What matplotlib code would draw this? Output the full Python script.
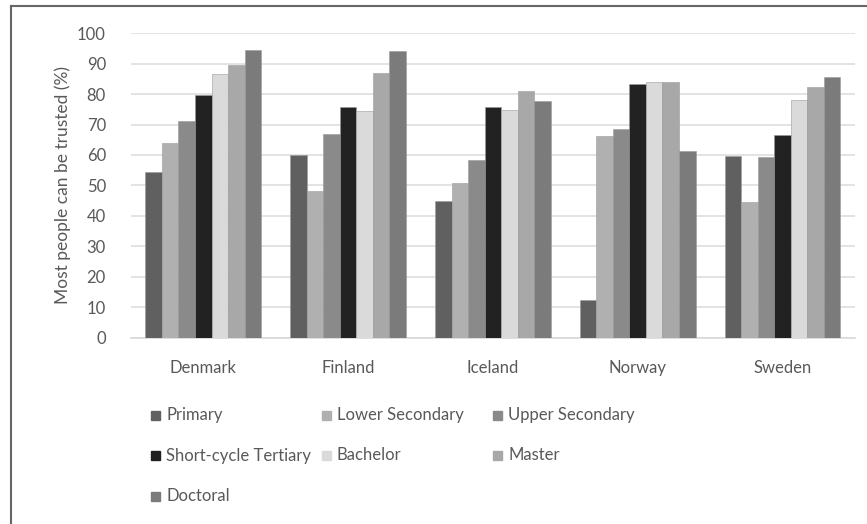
import matplotlib.pyplot as plt
import numpy as np
from matplotlib.lines import Line2D
from matplotlib.patches import Rectangle

countries = ["Denmark", "Finland", "Iceland", "Norway", "Sweden"]
levels = ["Primary", "Lower Secondary", "Upper Secondary",
          "Short-cycle Tertiary", "Bachelor", "Master", "Doctoral"]

primary = [54.5, 60, 45, 12.3, 59.6]
lower_secondary = [64, 48.3, 50.8, 66.3, 44.7]
upper_secondary = [71, 67, 58.4, 68.5, 59.3]
short_cycle = [79.8, 75.8, 75.6, 83.3, 66.4]
bachelor = [86.7, 74.4, 74.7, 83.8, 78]
master = [89.6, 87, 80.9, 83.8, 82.4]
doctoral = [94.5, 94, 77.8, 61.3, 85.7]

colors = ["#606060", "#b0b0b0", "#8a8a8a", "#222222", "#dadada", "#a8a8a8", "#7b7b7b"]

plt.rcParams['font.family'] = ['Lato', 'DejaVu Sans']
txt = "#595959"
W, H = 867, 524

fig = plt.figure(figsize=(W / 100, H / 100), dpi=100)
ax = fig.add_axes([0.151, 0.355, 0.835, 0.582])

series = [primary, lower_secondary, upper_secondary, short_cycle, bachelor, master, doctoral]
x = np.arange(len(countries))
w = 0.8 / len(series)
for i, (vals, lab, c) in enumerate(zip(series, levels, colors)):
    ax.bar(x - 0.4 + w * (i + 0.5), vals, w, color=c, label=lab,
           edgecolor="#9a9a9a", linewidth=0.4, zorder=3)

ax.set_ylim(0, 100)
ax.set_xlim(-0.5, 4.5)
ax.set_yticks(range(0, 101, 10))
ax.set_xticks(x)
ax.set_xticklabels(countries)
ax.tick_params(length=0, labelsize=12, colors=txt)
ax.tick_params(axis='y', pad=18)
ax.tick_params(axis='x', pad=16)
ax.yaxis.grid(True, color="#dedede", linewidth=1.2, zorder=0)
for s in ["top", "right", "left"]:
    ax.spines[s].set_visible(False)
ax.spines["bottom"].set_color("#d9d9d9")
ax.spines["bottom"].set_linewidth(1.2)
ax.set_ylabel("Most people can be trusted (%)", fontsize=12.5, color=txt, labelpad=4)

# legend laid out in equal-width columns, filled row by row
for k, (lab, c) in enumerate(zip(levels, colors)):
    row, col = divmod(k, 3)
    lx = 151 + col * 171
    ly = 415 + row * 40.5
    fig.add_artist(Rectangle(((lx) / W, 1 - (ly + 4.5) / H), 9 / W, 9 / H,
                             transform=fig.transFigure, color=c))
    fig.text((lx + 15) / W, 1 - ly / H, lab, fontsize=12, color=txt,
             va="center", ha="left")

# outer frame (left and top only, as cropped in the source)
fig.add_artist(Line2D([0.0127, 0.0127], [0.0, 0.989], transform=fig.transFigure,
                      color="#666666", linewidth=1.5))
fig.add_artist(Line2D([0.0127, 1.0], [0.989, 0.989], transform=fig.transFigure,
                      color="#666666", linewidth=1.5))

fig.savefig("out.png", dpi=100)
